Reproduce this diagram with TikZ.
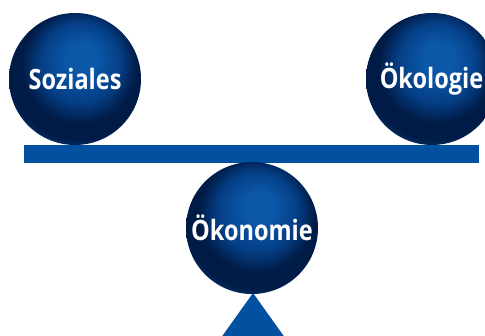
\documentclass[tikz,border=0pt]{standalone}
\usepackage{fontspec}
\usepackage{tikz}
\newfontfamily\ballfont{Open Sans}[FakeStretch=0.84]
\definecolor{hiblue}{HTML}{0B57A8}
\definecolor{midblue}{HTML}{053F86}
\definecolor{deepblue}{HTML}{001B46}
\definecolor{rimblue}{HTML}{0A4488}
\definecolor{barblue}{HTML}{0250A0}
\pgfdeclareradialshading{sphere}{\pgfpoint{3bp}{9bp}}{%
  color(0bp)=(hiblue); color(6bp)=(hiblue); color(15bp)=(midblue);
  color(22bp)=(deepblue); color(27bp)=(deepblue); color(33bp)=(rimblue);
  color(50bp)=(rimblue)}
\tikzset{
    ball/.style={circle, shade, shading=sphere, minimum size=132pt, inner sep=0pt,
                 text=white, font=\ballfont\bfseries\fontsize{28}{32}\selectfont},
    beam/.style={fill=barblue, minimum width=455pt, minimum height=18pt, inner sep=0pt},
    pivot/.style={fill=barblue}
}

\begin{document}
\begin{tikzpicture}[x=1pt, y=-1pt]
  \useasboundingbox (0, 0) rectangle (485, 336);
  \clip (0, 0) rectangle (485, 336);
  \coordinate (tip) at (253, 293);
  \coordinate (foot_left) at (208, 356);
  \coordinate (foot_right) at (298, 356);
  \fill[pivot] (tip) -- (foot_right) -- (foot_left) -- cycle;

  \node[beam] (bar) at (251.5, 154) {};
  \node[ball] (soziales) at (75, 79) {Soziales};
  \node[ball] (oekologie) at (432, 79) {\hspace*{-1pt}Ökologie};
  \node[ball] (oekonomie) at (252, 228) {Ökonomie};
\end{tikzpicture}
\end{document}
